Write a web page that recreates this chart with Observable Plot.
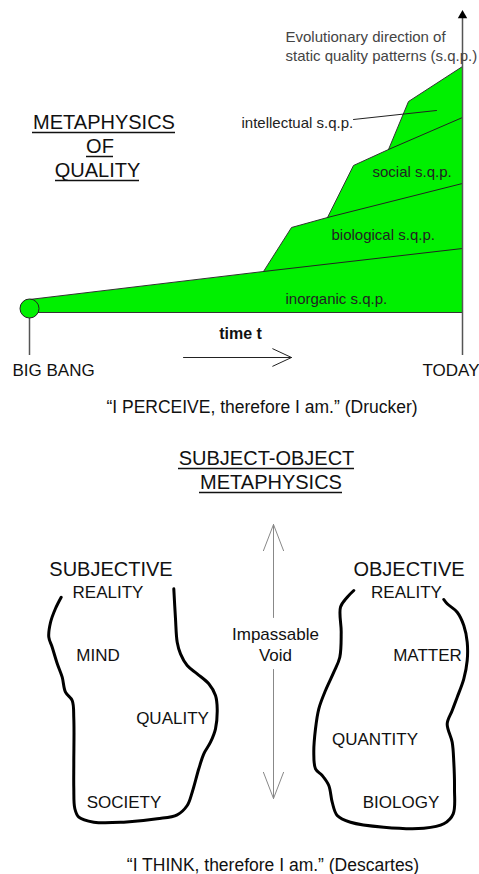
<!DOCTYPE html>
<html>
<head>
<meta charset="utf-8">
<script src="https://cdn.jsdelivr.net/npm/d3@7"></script>
<script src="https://cdn.jsdelivr.net/npm/@observablehq/plot@0.6"></script>
<style>
  html, body { margin: 0; padding: 0; background: #fff; }
  svg { display: block; }
</style>
</head>
<body>
<div id="chart"></div>
<script>
const W = 479, H = 874;

// ---- Metaphysics of Quality: evolution of static quality patterns ----
const greenOutline = [
  [29, 299], [263, 271], [291, 227], [327, 217], [353, 165], [388, 149],
  [408, 101], [462, 66], [462, 312], [29, 312], [29, 299]
];
const layerNames = ["inorganic/biological", "biological/social", "social/intellectual", "intellectual leader"];
const layerBoundaries = [
  [[263, 271], [462, 248]],
  [[327, 217], [462, 183]],
  [[388, 149], [462, 117]],
  [[353, 119], [436, 110]]
];
const bigBang = [[29, 308]];
const timelineRules = [
  {x: 29, y1: 318, y2: 355},
  {x: 462, y1: 16, y2: 355}
];
const upArrowTip = [[462, 15]];
const timeArrow = [{x1: 183, y1: 357, x2: 291, y2: 357}];

const layerLabels = [
  {text: "inorganic s.q.p.", x: 285, y: 299},
  {text: "biological s.q.p.", x: 331, y: 235},
  {text: "social s.q.p.", x: 372, y: 172},
  {text: "intellectual s.q.p.", x: 241, y: 123}
];
const directionLabel = [
  {text: "Evolutionary direction of", x: 285, y: 37},
  {text: "static quality patterns (s.q.p.)", x: 285, y: 56}
];
const titleTop = [
  {text: "METAPHYSICS", x: 103.5, y: 122},
  {text: "OF", x: 99.5, y: 146},
  {text: "QUALITY", x: 97, y: 170}
];
const titleTopUnderlines = [
  {x1: 32, x2: 175, y: 132},
  {x1: 86, x2: 113, y: 156},
  {x1: 55, x2: 139, y: 180}
];
const timeLabel = [{text: "time t", x: 240, y: 333}];
const endpointLabels = [
  {text: "BIG BANG", x: 12, y: 370},
  {text: "TODAY", x: 422, y: 370}
];
const quotes = [
  {text: "\u201CI PERCEIVE, therefore I am.\u201D (Drucker)", x: 261.5, y: 407},
  {text: "\u201CI THINK, therefore I am.\u201D (Descartes)", x: 272.5, y: 865}
];

// ---- Subject-Object Metaphysics ----
const titleBottom = [
  {text: "SUBJECT-OBJECT", x: 266, y: 458},
  {text: "METAPHYSICS", x: 270.5, y: 482}
];
const titleBottomUnderlines = [
  {x1: 178, x2: 354, y: 468},
  {x1: 199, x2: 342, y: 492}
];
const realmHeads = [
  {text: "SUBJECTIVE", x: 110.5, y: 569},
  {text: "OBJECTIVE", x: 408.5, y: 569}
];
const realmTerms = [
  {text: "REALITY", x: 107.5, y: 592},
  {text: "MIND", x: 97.5, y: 655},
  {text: "QUALITY", x: 172, y: 718},
  {text: "SOCIETY", x: 123.5, y: 802},
  {text: "REALITY", x: 406, y: 592},
  {text: "MATTER", x: 427, y: 655},
  {text: "QUANTITY", x: 374.5, y: 739},
  {text: "BIOLOGY", x: 400.5, y: 802}
];
const voidLabel = [
  {text: "Impassable", x: 275, y: 634},
  {text: "Void", x: 275, y: 655}
];
const voidArrows = [
  {x1: 273, y1: 617, x2: 273, y2: 524},
  {x1: 273, y1: 669, x2: 273, y2: 798}
];
const subjectiveBlob = [
  [60.7, 596.7], [55, 608], [50, 622], [48.3, 636.7], [51.7, 646.7], [56.7, 663],
  [61.7, 676.7], [65, 691.7], [71.7, 700], [73.3, 718], [73.3, 761.7], [73.3, 788],
  [74.3, 808], [78.3, 816.7], [93.3, 821.7], [123.3, 821.7], [156.7, 818.3],
  [176.7, 814.3], [186.7, 805], [191.7, 791.7], [198.3, 768.3], [203.3, 753.3],
  [210, 741.7], [215, 728.3], [216.7, 708.3], [215, 695], [208.3, 683.3],
  [196.7, 673.3], [186.7, 665], [180, 653.3], [176.7, 641.7], [175, 618.3], [173.3, 588.3]
];
const objectiveBlob = [
  [353.3, 590], [346.7, 596.7], [340, 606.7], [340.7, 631.7], [339.3, 656.7],
  [333.3, 671.7], [325, 690], [318.3, 708.3], [315, 728.3], [313.3, 751.7],
  [315, 768.3], [321.7, 775], [328.3, 785], [331.7, 801.7], [336.7, 815],
  [350, 821.7], [383.3, 826.7], [423.3, 827.7], [443.3, 823.3], [452.7, 813.3],
  [454, 788.3], [453.3, 761.7], [451.7, 741.7], [446.7, 723.3], [451.7, 710],
  [456.7, 696.7], [463.3, 678.3], [466.7, 660], [466.7, 641.7], [463.3, 625],
  [456.7, 611.7], [446.7, 603.3], [443.3, 599]
];

const boundaryRows = layerBoundaries.flatMap((pts, i) => pts.map(p => ({name: layerNames[i], x: p[0], y: p[1]})));
const px = d => d[0], py = d => d[1];

const chart = Plot.plot({
  width: W,
  height: H,
  margin: 0,
  style: {background: "#fff", fontFamily: "'Liberation Sans', Arial, sans-serif"},
  x: {domain: [0, W], axis: null},
  y: {domain: [0, H], range: [0, H], axis: null},
  marks: [
    // green evolution region
    Plot.line(greenOutline, {x: px, y: py, fill: "#00f000", stroke: "#333", strokeWidth: 1, curve: "linear"}),
    Plot.line(boundaryRows, {x: "x", y: "y", z: "name", stroke: "#222", strokeWidth: 1}),
    Plot.ruleX(timelineRules, {x: "x", y1: "y1", y2: "y2", stroke: "#555", strokeWidth: 1.5}),
    Plot.dot(upArrowTip, {x: px, y: py, symbol: "triangle", r: 3.5, fill: "#000", stroke: "none"}),
    Plot.dot(bigBang, {x: px, y: py, r: 9.5, fill: "#00f000", stroke: "#222", strokeWidth: 1}),
    Plot.arrow(timeArrow, {x1: "x1", y1: "y1", x2: "x2", y2: "y2", stroke: "#222", strokeWidth: 1, headAngle: 50, headLength: 31}),

    Plot.text(layerLabels, {x: "x", y: "y", text: "text", textAnchor: "start", fontSize: 15, fill: "#222"}),
    Plot.text(directionLabel, {x: "x", y: "y", text: "text", textAnchor: "start", fontSize: 15, fill: "#444"}),
    Plot.text(titleTop, {x: "x", y: "y", text: "text", fontSize: 20, fill: "#111"}),
    Plot.ruleY(titleTopUnderlines, {y: "y", x1: "x1", x2: "x2", stroke: "#111", strokeWidth: 1.5}),
    Plot.text(timeLabel, {x: "x", y: "y", text: "text", fontSize: 16, fontWeight: "bold", fill: "#111"}),
    Plot.text(endpointLabels, {x: "x", y: "y", text: "text", textAnchor: "start", fontSize: 17, fill: "#111"}),
    Plot.text(quotes, {x: "x", y: "y", text: "text", fontSize: 17.5, fill: "#111"}),

    // subject-object metaphysics
    Plot.text(titleBottom, {x: "x", y: "y", text: "text", fontSize: 20, fill: "#111"}),
    Plot.ruleY(titleBottomUnderlines, {y: "y", x1: "x1", x2: "x2", stroke: "#111", strokeWidth: 1.5}),
    Plot.text(realmHeads, {x: "x", y: "y", text: "text", fontSize: 20, fill: "#111"}),
    Plot.text(realmTerms, {x: "x", y: "y", text: "text", fontSize: 17, fill: "#111"}),
    Plot.text(voidLabel, {x: "x", y: "y", text: "text", fontSize: 17, fill: "#111"}),
    Plot.arrow(voidArrows, {x1: "x1", y1: "y1", x2: "x2", y2: "y2", stroke: "#888", strokeWidth: 1, headAngle: 42, headLength: 42}),
    Plot.line(subjectiveBlob, {x: px, y: py, stroke: "#000", strokeWidth: 3, curve: "catmull-rom", strokeLinejoin: "round", strokeLinecap: "round"}),
    Plot.line(objectiveBlob, {x: px, y: py, stroke: "#000", strokeWidth: 3, curve: "catmull-rom", strokeLinejoin: "round", strokeLinecap: "round"})
  ]
});
document.getElementById("chart").appendChild(chart);
</script>
</body>
</html>
